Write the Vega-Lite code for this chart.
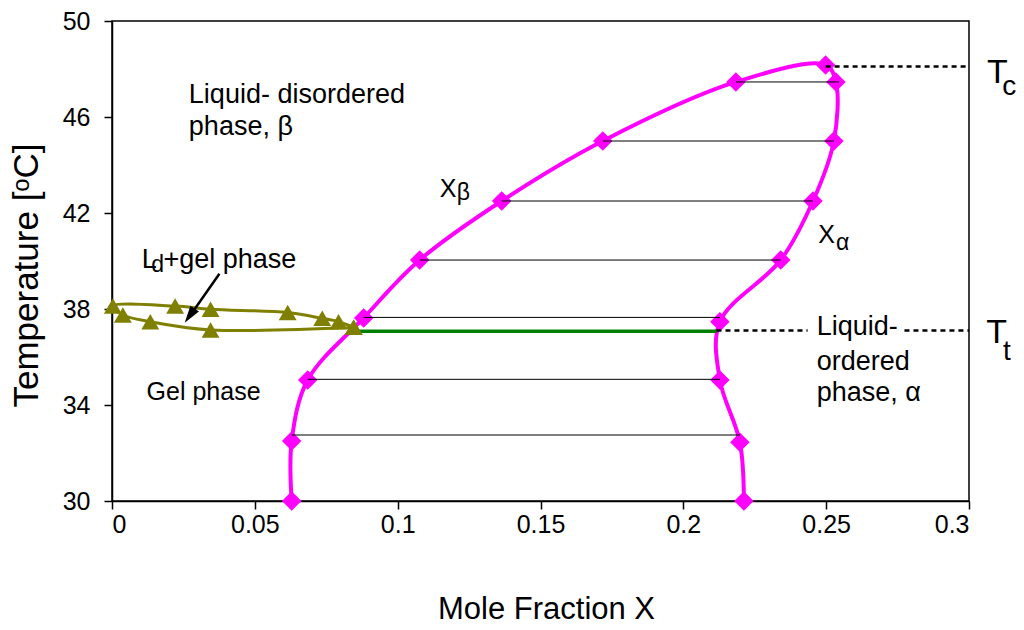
{
  "$schema": "https://vega.github.io/schema/vega-lite/v6.json",
  "width": 857,
  "height": 480,
  "autosize": {"type": "none"},
  "padding": {"left": 112, "top": 21, "right": 55, "bottom": 129},
  "background": "white",
  "config": {
    "view": {"stroke": "black", "strokeWidth": 1.5},
    "font": "Liberation Sans",
    "axis": {
      "grid": false,
      "domainColor": "black",
      "domainWidth": 1.5,
      "tickColor": "black",
      "tickWidth": 1.5,
      "tickSize": 8,
      "labelFont": "Liberation Sans",
      "labelFontSize": 25,
      "labelColor": "black",
      "titleFont": "Liberation Sans",
      "titleFontSize": 31,
      "titleFontWeight": "normal",
      "titleColor": "black"
    }
  },
  "datasets": {
    "pink": [
      {"x": 0.0629, "t": 30.0, "o": 1},
      {"x": 0.0629, "t": 32.5, "o": 2},
      {"x": 0.0685, "t": 35.04, "o": 3},
      {"x": 0.0881, "t": 37.63, "o": 4},
      {"x": 0.1077, "t": 40.04, "o": 5},
      {"x": 0.1364, "t": 42.5, "o": 6},
      {"x": 0.1718, "t": 45.0, "o": 7},
      {"x": 0.2184, "t": 47.46, "o": 8},
      {"x": 0.2498, "t": 48.17, "o": 9},
      {"x": 0.2534, "t": 47.46, "o": 10},
      {"x": 0.2527, "t": 45.0, "o": 11},
      {"x": 0.2454, "t": 42.5, "o": 12},
      {"x": 0.2341, "t": 40.04, "o": 13},
      {"x": 0.2128, "t": 37.47, "o": 14},
      {"x": 0.2128, "t": 35.04, "o": 15},
      {"x": 0.2198, "t": 32.45, "o": 16},
      {"x": 0.2212, "t": 30.0, "o": 17}
    ],
    "ties": [
      {"x": 0.0629, "x2": 0.2198, "t": 32.75},
      {"x": 0.0685, "x2": 0.2128, "t": 35.07},
      {"x": 0.0881, "x2": 0.2128, "t": 37.65},
      {"x": 0.1077, "x2": 0.2341, "t": 40.04},
      {"x": 0.1364, "x2": 0.2454, "t": 42.5},
      {"x": 0.1718, "x2": 0.2527, "t": 45.0},
      {"x": 0.2184, "x2": 0.2545, "t": 47.46}
    ],
    "green": [
      {"x": 0.0846, "x2": 0.2116, "t": 37.07}
    ],
    "dotted": [
      {"x": 0.2498, "x2": 0.3, "t": 48.1},
      {"x": 0.2116, "x2": 0.2435, "t": 37.1},
      {"x": 0.2774, "x2": 0.3, "t": 37.1}
    ],
    "olive": [
      {"x": 0.0846, "t": 37.24, "o": 1},
      {"x": 0.0345, "t": 37.13, "o": 2},
      {"x": 0.0134, "t": 37.47, "o": 3},
      {"x": 0.0038, "t": 37.75, "o": 4},
      {"x": 0.0003, "t": 38.12, "o": 5},
      {"x": 0.0221, "t": 38.12, "o": 6},
      {"x": 0.0345, "t": 37.99, "o": 7},
      {"x": 0.0615, "t": 37.85, "o": 8},
      {"x": 0.0736, "t": 37.61, "o": 9},
      {"x": 0.0793, "t": 37.47, "o": 10},
      {"x": 0.0846, "t": 37.24, "o": 11}
    ],
    "shaft": [
      {"x": 0.0376, "t": 39.47, "o": 1},
      {"x": 0.0278, "t": 37.8, "o": 2}
    ],
    "head": [
      {"x": 0.0272, "t": 37.72}
    ],
    "txt27": [
      {"x": 0.0269, "t": 46.57, "label": "Liquid- disordered"},
      {"x": 0.0269, "t": 45.25, "label": "phase, β"},
      {"x": 0.2467, "t": 36.92, "label": "Liquid-"},
      {"x": 0.2467, "t": 35.47, "label": "ordered"},
      {"x": 0.2467, "t": 34.15, "label": "phase, α"}
    ],
    "txt25": [
      {"x": 0.0121, "t": 34.21, "label": "Gel phase"},
      {"x": 0.1147, "t": 42.65, "label": "X"},
      {"x": 0.2472, "t": 40.74, "label": "X"}
    ],
    "txtLd": [
      {"x": 0.0104, "t": 39.7, "label": "L"},
      {"x": 0.0180, "t": 39.7, "label": "+gel phase"}
    ],
    "txtsub": [
      {"x": 0.0137, "t": 39.55, "label": "d"},
      {"x": 0.1207, "t": 42.53, "label": "β"},
      {"x": 0.2534, "t": 40.46, "label": "α"}
    ],
    "txtT": [
      {"x": 0.3063, "t": 47.42, "label": "T"},
      {"x": 0.306, "t": 36.58, "label": "T"}
    ],
    "txtTsub": [
      {"x": 0.3116, "t": 46.92, "label": "c"},
      {"x": 0.3119, "t": 35.875, "label": "t"}
    ]
  },
  "encoding": {
    "x": {
      "field": "x",
      "type": "quantitative",
      "scale": {"domain": [0, 0.3], "nice": false, "zero": false},
      "axis": {
        "values": [0, 0.05, 0.1, 0.15, 0.2, 0.25, 0.3],
        "format": ".2~f",
        "labelPadding": 3,
        "title": "Mole Fraction X",
        "titleX": 434,
        "titleY": 117,
        "titleBaseline": "alphabetic"
      }
    },
    "y": {
      "field": "t",
      "type": "quantitative",
      "scale": {"domain": [30, 50], "nice": false, "zero": false},
      "axis": {
        "values": [30, 34, 38, 42, 46, 50],
        "labelPadding": 14,
        "title": "Temperature [ᵒC]",
        "titleX": -75,
        "titleY": 254,
        "titleAngle": -90,
        "titleFontSize": 35,
        "titleBaseline": "alphabetic"
      }
    }
  },
  "layer": [
    {
      "data": {"name": "pink"},
      "mark": {"type": "line", "color": "#FF00FF", "strokeWidth": 4, "interpolate": "catmull-rom"},
      "encoding": {"order": {"field": "o", "type": "quantitative"}}
    },
    {
      "data": {"name": "pink"},
      "mark": {"type": "point", "shape": "diamond", "filled": true, "size": 380, "color": "#FF00FF", "opacity": 1}
    },
    {
      "data": {"name": "ties"},
      "mark": {"type": "rule", "color": "black", "strokeWidth": 1},
      "encoding": {"x2": {"field": "x2"}}
    },
    {
      "data": {"name": "green"},
      "mark": {"type": "rule", "color": "#008000", "strokeWidth": 3.5},
      "encoding": {"x2": {"field": "x2"}}
    },
    {
      "data": {"name": "olive"},
      "mark": {"type": "line", "color": "#808000", "strokeWidth": 3, "interpolate": "catmull-rom"},
      "encoding": {"order": {"field": "o", "type": "quantitative"}}
    },
    {
      "data": {"name": "olive"},
      "mark": {"type": "point", "shape": "triangle-up", "filled": true, "size": 320, "color": "#808000", "opacity": 1}
    },
    {
      "data": {"name": "dotted"},
      "mark": {"type": "rule", "color": "black", "strokeWidth": 2.5, "strokeDash": [5, 4]},
      "encoding": {"x2": {"field": "x2"}}
    },
    {
      "data": {"name": "shaft"},
      "mark": {"type": "line", "color": "black", "strokeWidth": 2.5},
      "encoding": {"order": {"field": "o", "type": "quantitative"}}
    },
    {
      "data": {"name": "head"},
      "mark": {"type": "point", "shape": "M0,-1L-0.6,1L0.6,1Z", "filled": true, "size": 300, "angle": 215, "color": "black", "opacity": 1}
    },
    {
      "data": {"name": "txt27"},
      "mark": {"type": "text", "align": "left", "baseline": "alphabetic", "fontSize": 27, "color": "black"},
      "encoding": {"text": {"field": "label"}}
    },
    {
      "data": {"name": "txt25"},
      "mark": {"type": "text", "align": "left", "baseline": "alphabetic", "fontSize": 25, "color": "black"},
      "encoding": {"text": {"field": "label"}}
    },
    {
      "data": {"name": "txtLd"},
      "mark": {"type": "text", "align": "left", "baseline": "alphabetic", "fontSize": 27, "color": "black"},
      "encoding": {"text": {"field": "label"}}
    },
    {
      "data": {"name": "txtsub"},
      "mark": {"type": "text", "align": "left", "baseline": "alphabetic", "fontSize": 23, "color": "black"},
      "encoding": {"text": {"field": "label"}}
    },
    {
      "data": {"name": "txtT"},
      "mark": {"type": "text", "align": "left", "baseline": "alphabetic", "fontSize": 34, "color": "black"},
      "encoding": {"text": {"field": "label"}}
    },
    {
      "data": {"name": "txtTsub"},
      "mark": {"type": "text", "align": "left", "baseline": "alphabetic", "fontSize": 28, "color": "black"},
      "encoding": {"text": {"field": "label"}}
    }
  ]
}
